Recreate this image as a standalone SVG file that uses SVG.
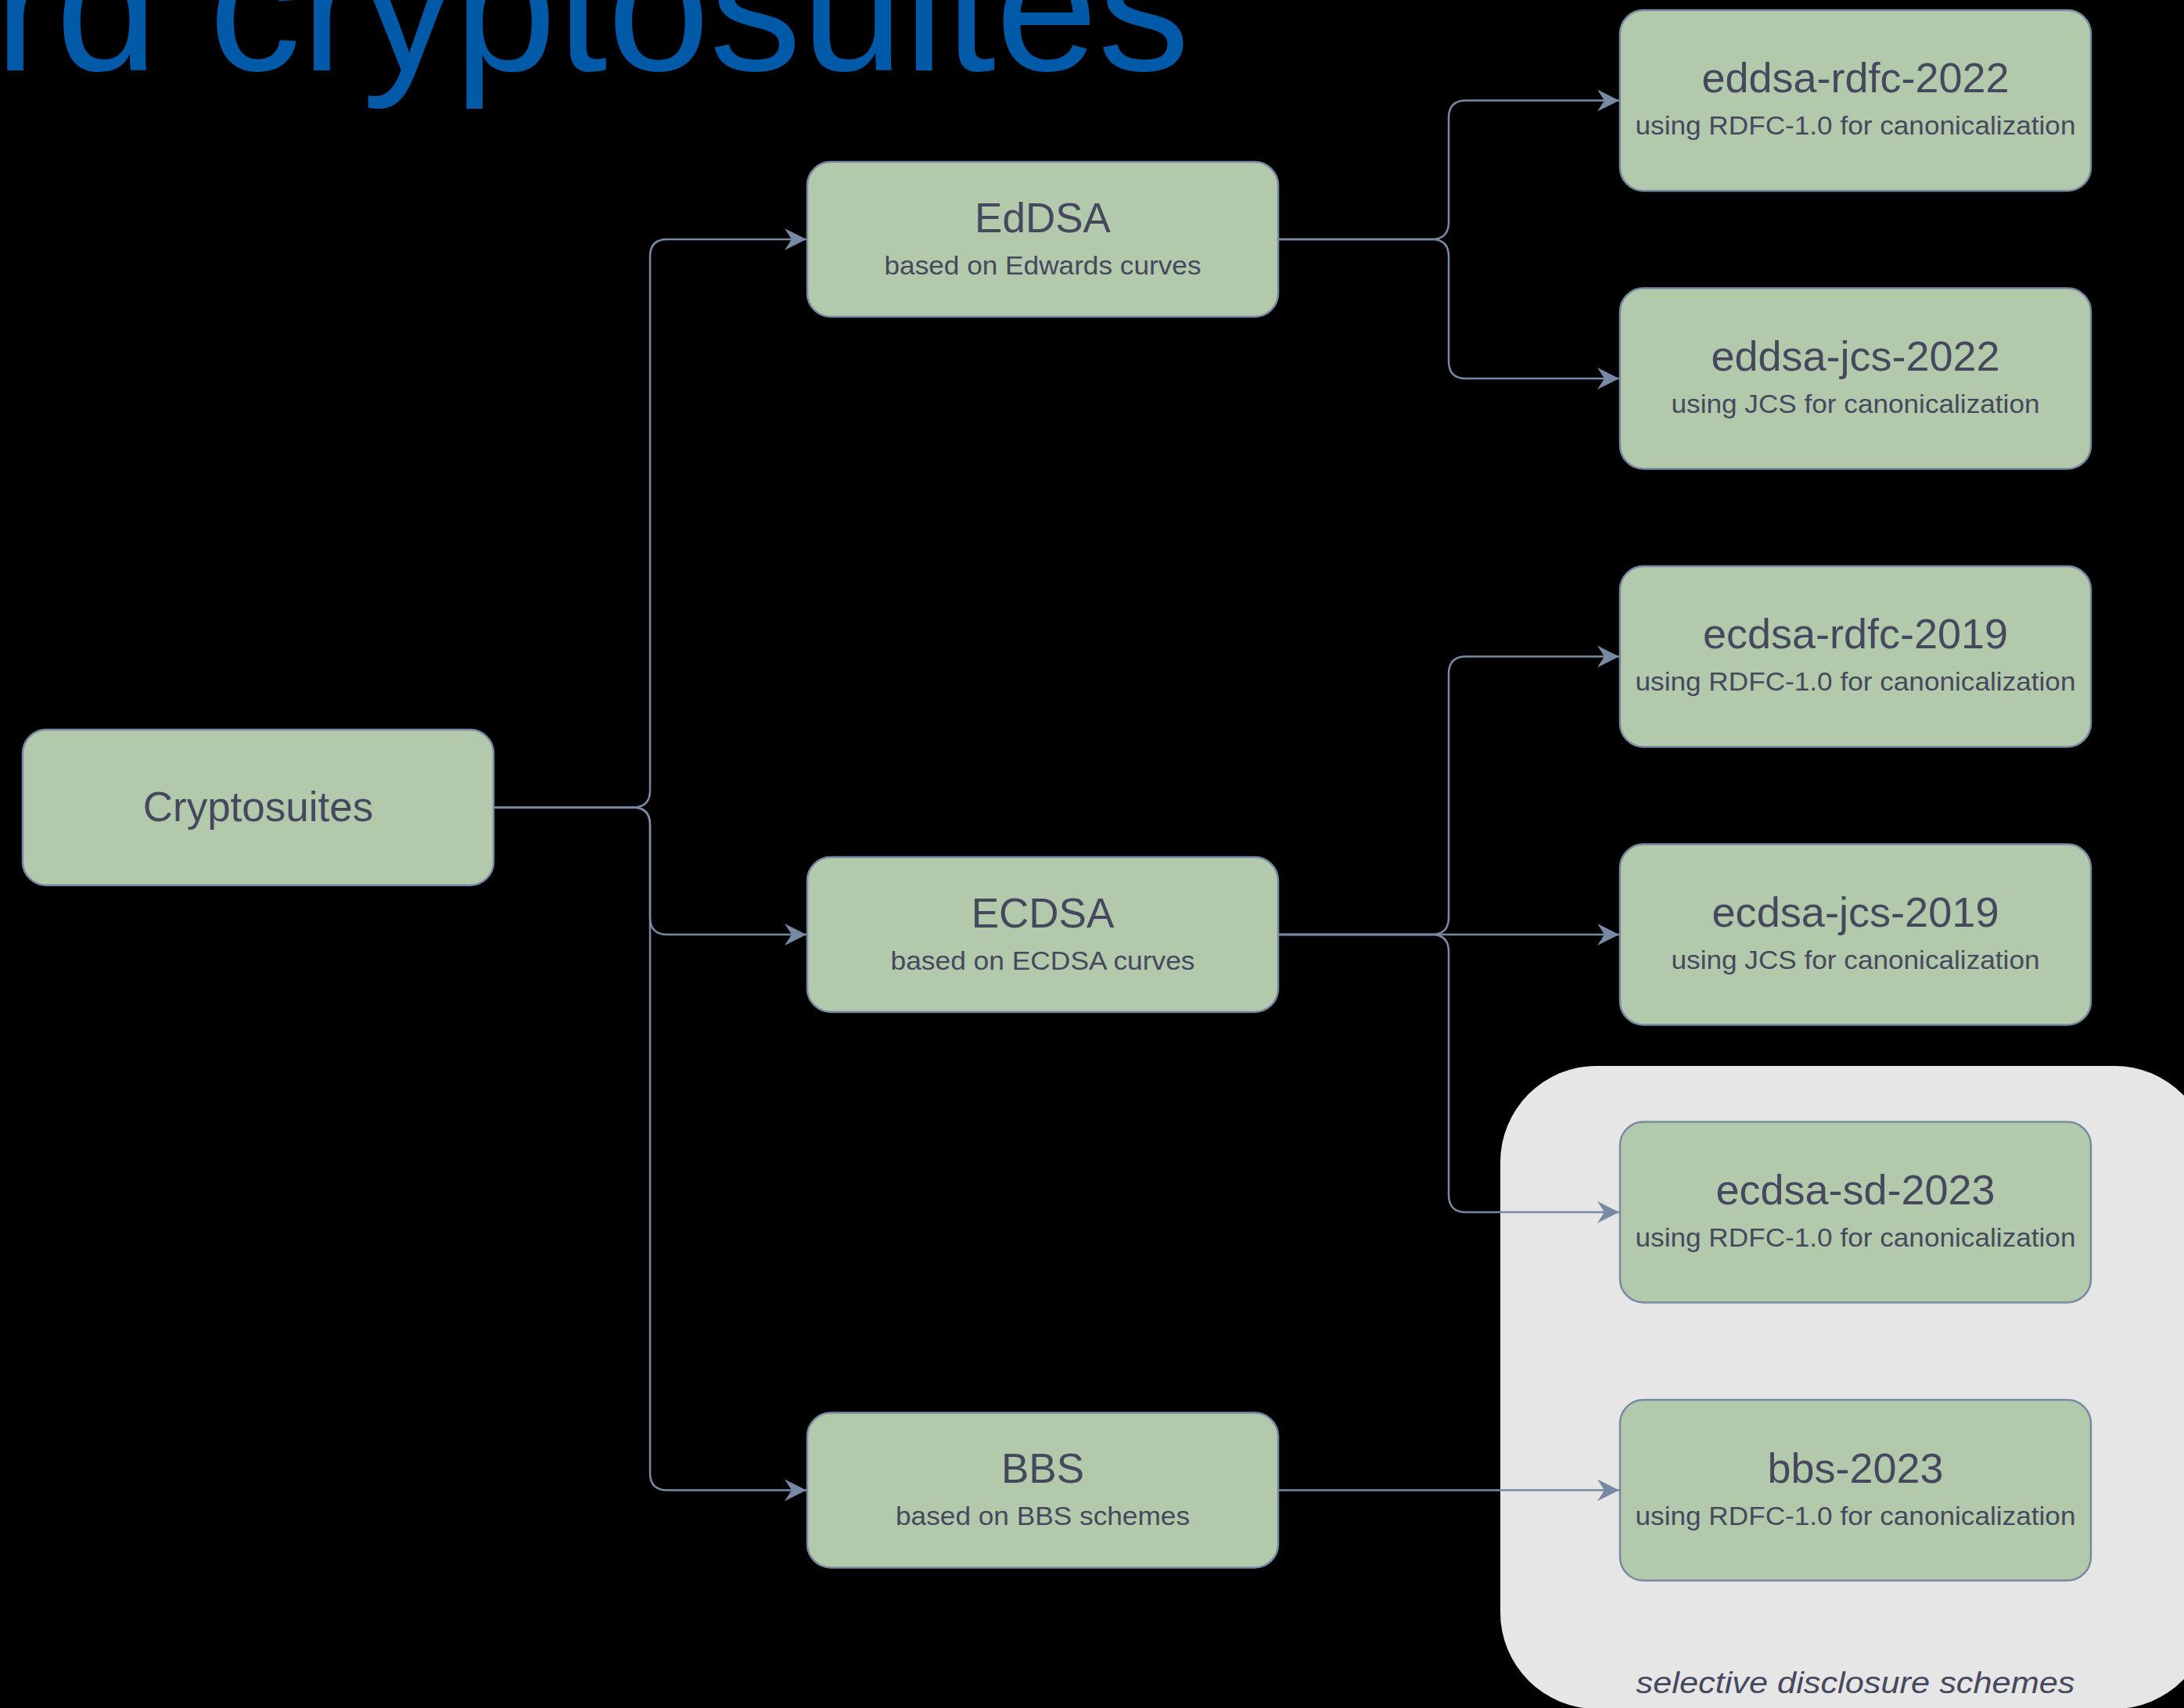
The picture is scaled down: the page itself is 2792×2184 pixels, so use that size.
<svg xmlns="http://www.w3.org/2000/svg" width="2792" height="2184" viewBox="0 0 2792 2184">
<style>
.box{fill:#B2C9AB;stroke:#788AA3;stroke-width:2.5}
.t{font-family:"Liberation Sans",Arial,Helvetica,sans-serif;fill:#46495D;text-anchor:middle}
.h{font-size:53px}
.s{font-size:33.5px}
.c{fill:none;stroke:#788AA3;stroke-width:2.5}
</style>
<defs>
<marker id="arr" markerUnits="userSpaceOnUse" markerWidth="30" markerHeight="30" viewBox="0 0 30 30" refX="29" refY="15" orient="auto">
<path d="M1,1 L29,15 L1,29 L10,15 Z" fill="#788AA3"/>
</marker>
</defs>
<rect x="0" y="0" width="2792" height="2184" fill="#000000"/>
<text x="1521" y="90" font-family="Liberation Sans,Arial,sans-serif" font-size="235" fill="#005AA8" text-anchor="end">rd cryptosuites</text>
<g id="group-sd">
<rect x="1918" y="1363" width="908" height="822" rx="123" ry="123" fill="#E6E6E6"/>
<text class="t" x="2372" y="2165" font-size="39" font-style="italic" textLength="561" lengthAdjust="spacingAndGlyphs">selective disclosure schemes</text>
</g>
<g id="connectors" class="c">
<path class="c" marker-end="url(#arr)" d="M631,1032.5 H809 Q831,1032.5 831,1010.5 V328 Q831,306 853,306 H1031"/>
<path class="c" marker-end="url(#arr)" d="M631,1032.5 H809 Q831,1032.5 831,1054.5 V1173 Q831,1195 853,1195 H1031"/>
<path class="c" marker-end="url(#arr)" d="M631,1032.5 H809 Q831,1032.5 831,1054.5 V1883.5 Q831,1905.5 853,1905.5 H1031"/>
<path class="c" marker-end="url(#arr)" d="M1634,306 H1830 Q1852,306 1852,284 V150.5 Q1852,128.5 1874,128.5 H2070"/>
<path class="c" marker-end="url(#arr)" d="M1634,306 H1830 Q1852,306 1852,328 V462 Q1852,484 1874,484 H2070"/>
<path class="c" marker-end="url(#arr)" d="M1634,1195 H1830 Q1852,1195 1852,1173 V861.5 Q1852,839.5 1874,839.5 H2070"/>
<path class="c" marker-end="url(#arr)" d="M1634,1195 H2070"/>
<path class="c" marker-end="url(#arr)" d="M1634,1195 H1830 Q1852,1195 1852,1217 V1528 Q1852,1550 1874,1550 H2070"/>
<path class="c" marker-end="url(#arr)" d="M1634,1905.5 H2070"/>
</g>
<g id="cryptosuites">
<rect class="box" x="29" y="933" width="602" height="199" rx="30"/>
<text class="t h" x="330" y="1050">Cryptosuites</text>
</g>
<g id="eddsa">
<rect class="box" x="1032" y="207" width="602" height="198" rx="30"/>
<text class="t h" x="1333" y="296.5">EdDSA</text>
<text class="t s" x="1333" y="350.5" textLength="405" lengthAdjust="spacingAndGlyphs">based on Edwards curves</text>
</g>
<g id="ecdsa">
<rect class="box" x="1032" y="1096" width="602" height="198" rx="30"/>
<text class="t h" x="1333" y="1185.5">ECDSA</text>
<text class="t s" x="1333" y="1239.5" textLength="389" lengthAdjust="spacingAndGlyphs">based on ECDSA curves</text>
</g>
<g id="bbs">
<rect class="box" x="1032" y="1806.5" width="602" height="198" rx="30"/>
<text class="t h" x="1333" y="1896">BBS</text>
<text class="t s" x="1333" y="1950" textLength="376" lengthAdjust="spacingAndGlyphs">based on BBS schemes</text>
</g>
<g id="eddsa-rdfc-2022">
<rect class="box" x="2071" y="13" width="602" height="231" rx="30"/>
<text class="t h" x="2372" y="118" textLength="393" lengthAdjust="spacingAndGlyphs">eddsa-rdfc-2022</text>
<text class="t s" x="2372" y="172" textLength="563" lengthAdjust="spacingAndGlyphs">using RDFC-1.0 for canonicalization</text>
</g>
<g id="eddsa-jcs-2022">
<rect class="box" x="2071" y="368.5" width="602" height="231" rx="30"/>
<text class="t h" x="2372" y="473.5" textLength="369" lengthAdjust="spacingAndGlyphs">eddsa-jcs-2022</text>
<text class="t s" x="2372" y="527.5" textLength="471" lengthAdjust="spacingAndGlyphs">using JCS for canonicalization</text>
</g>
<g id="ecdsa-rdfc-2019">
<rect class="box" x="2071" y="724" width="602" height="231" rx="30"/>
<text class="t h" x="2372" y="829" textLength="390" lengthAdjust="spacingAndGlyphs">ecdsa-rdfc-2019</text>
<text class="t s" x="2372" y="883" textLength="563" lengthAdjust="spacingAndGlyphs">using RDFC-1.0 for canonicalization</text>
</g>
<g id="ecdsa-jcs-2019">
<rect class="box" x="2071" y="1079.5" width="602" height="231" rx="30"/>
<text class="t h" x="2372" y="1184.5" textLength="367" lengthAdjust="spacingAndGlyphs">ecdsa-jcs-2019</text>
<text class="t s" x="2372" y="1238.5" textLength="471" lengthAdjust="spacingAndGlyphs">using JCS for canonicalization</text>
</g>
<g id="ecdsa-sd-2023">
<rect class="box" x="2071" y="1434.5" width="602" height="231" rx="30"/>
<text class="t h" x="2372" y="1539.5" textLength="357" lengthAdjust="spacingAndGlyphs">ecdsa-sd-2023</text>
<text class="t s" x="2372" y="1593.5" textLength="563" lengthAdjust="spacingAndGlyphs">using RDFC-1.0 for canonicalization</text>
</g>
<g id="bbs-2023">
<rect class="box" x="2071" y="1790" width="602" height="231" rx="30"/>
<text class="t h" x="2372" y="1895.5" textLength="225" lengthAdjust="spacingAndGlyphs">bbs-2023</text>
<text class="t s" x="2372" y="1949.5" textLength="563" lengthAdjust="spacingAndGlyphs">using RDFC-1.0 for canonicalization</text>
</g>
</svg>
